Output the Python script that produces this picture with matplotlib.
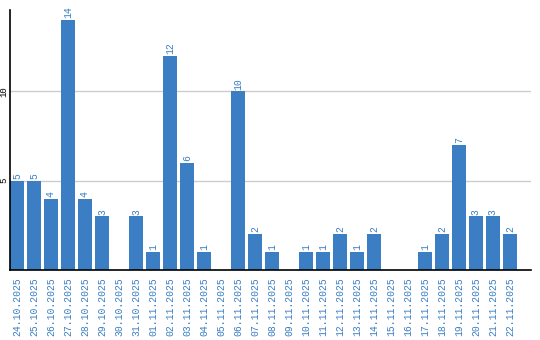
import matplotlib
matplotlib.use('Agg')
import matplotlib.pyplot as plt

dates = ['24.10.2025', '25.10.2025', '26.10.2025', '27.10.2025', '28.10.2025',
         '29.10.2025', '30.10.2025', '31.10.2025', '01.11.2025', '02.11.2025',
         '03.11.2025', '04.11.2025', '05.11.2025', '06.11.2025', '07.11.2025',
         '08.11.2025', '09.11.2025', '10.11.2025', '11.11.2025', '12.11.2025',
         '13.11.2025', '14.11.2025', '15.11.2025', '16.11.2025', '17.11.2025',
         '18.11.2025', '19.11.2025', '20.11.2025', '21.11.2025', '22.11.2025']
counts = [5, 5, 4, 14, 4, 3, 0, 3, 1, 12, 6, 1, 0, 10, 2, 1, 0, 1, 1, 2,
          1, 2, 0, 0, 1, 2, 7, 3, 3, 2]
y_ticks = [5, 10]

blue = '#3b7ec3'
mono = 'Liberation Mono'

fig = plt.figure(figsize=(5.4, 3.4), dpi=100)
ax = fig.add_axes([10/540, 70/340, 521/540, 260/340])

x = range(len(counts))
ax.bar(x, counts, width=0.82, color=blue, zorder=2)
for i, v in enumerate(counts):
    if v > 0:
        ax.text(i, v + 0.1, str(v), rotation=90, ha='center', va='bottom',
                color=blue, fontsize=7, family=mono)

ax.set_xlim(-0.41, 30.24)
ax.set_ylim(0, 14.55)
ax.set_xticks(list(x))
ax.set_xticklabels(dates, rotation=90, color=blue, fontsize=7, family=mono)
ax.set_yticks(y_ticks)
ax.set_yticklabels([str(t) for t in y_ticks], rotation=90, va='center',
                   ha='center', fontsize=6.5, family=mono)
ax.tick_params(axis='y', length=0, pad=4.2)
ax.tick_params(axis='x', length=0, pad=5)
ax.grid(axis='y', color='#cccccc', linewidth=1, zorder=0)
ax.spines['top'].set_visible(False)
ax.spines['right'].set_visible(False)
ax.spines['left'].set_linewidth(1.2)
ax.spines['bottom'].set_linewidth(1.2)

plt.savefig('out.png', dpi=100)
